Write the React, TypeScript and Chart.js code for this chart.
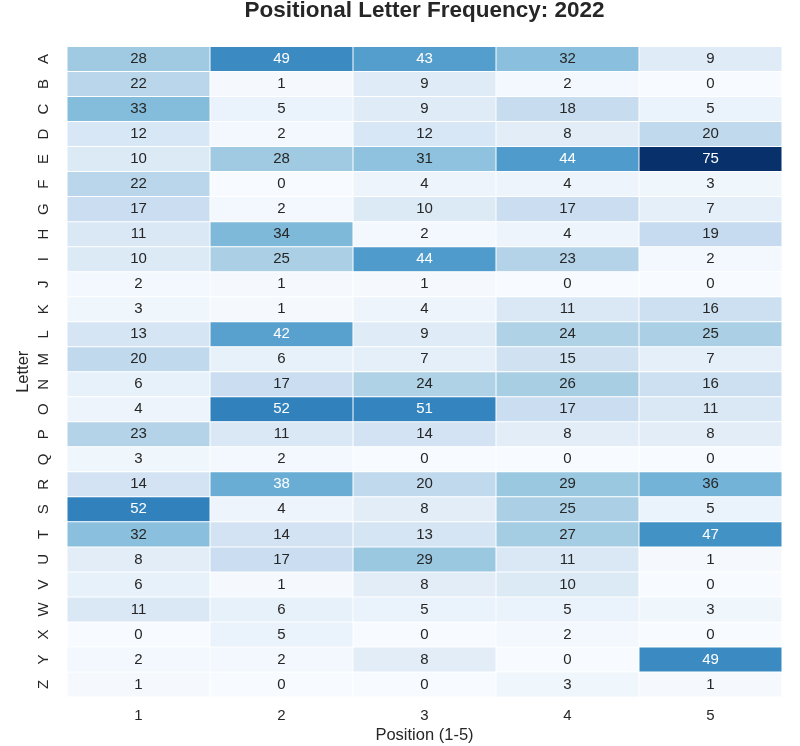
import { useEffect, useRef } from "react";
import { Chart } from "chart.js/auto";

const LETTERS = "ABCDEFGHIJKLMNOPQRSTUVWXYZ".split("");
const POSITIONS = ["1", "2", "3", "4", "5"];
const TITLE = "Positional Letter Frequency: 2022";

// counts per letter (A..Z) for each word position
const POS1 = [28, 22, 33, 12, 10, 22, 17, 11, 10, 2, 3, 13, 20, 6, 4, 23, 3, 14, 52, 32, 8, 6, 11, 0, 2, 1];
const POS2 = [49, 1, 5, 2, 28, 0, 2, 34, 25, 1, 1, 42, 6, 17, 52, 11, 2, 38, 4, 14, 17, 1, 6, 5, 2, 0];
const POS3 = [43, 9, 9, 12, 31, 4, 10, 2, 44, 1, 4, 9, 7, 24, 51, 14, 0, 20, 8, 13, 29, 8, 5, 0, 8, 0];
const POS4 = [32, 2, 18, 8, 44, 4, 17, 4, 23, 0, 11, 24, 15, 26, 17, 8, 0, 29, 25, 27, 11, 10, 5, 2, 0, 3];
const POS5 = [9, 0, 5, 20, 75, 3, 7, 19, 2, 0, 16, 25, 7, 16, 11, 8, 0, 36, 5, 47, 1, 0, 3, 0, 49, 1];

const COLUMNS = [POS1, POS2, POS3, POS4, POS5];

const FONT = '"Liberation Sans", Arial, sans-serif';
const INK = "#262626";

// matplotlib "Blues"
const BLUES = [
  [247, 251, 255],
  [222, 235, 247],
  [198, 219, 239],
  [158, 202, 225],
  [107, 174, 214],
  [66, 146, 198],
  [33, 113, 181],
  [8, 81, 156],
  [8, 48, 107],
];

function blues(t: number): number[] {
  t = Math.max(0, Math.min(1, t));
  t = Math.floor(t * 255) / 255;
  const s = t * 8;
  const i = Math.min(7, Math.floor(s));
  const f = s - i;
  return BLUES[i].map((c, k) => Math.round(c + (BLUES[i + 1][k] - c) * f));
}

function luminance(rgb: number[]) {
  const lin = (c: number) => {
    c /= 255;
    return c <= 0.03928 ? c / 12.92 : Math.pow((c + 0.055) / 1.055, 2.4);
  };
  return 0.2126 * lin(rgb[0]) + 0.7152 * lin(rgb[1]) + 0.0722 * lin(rgb[2]);
}

const vmax = Math.max(...COLUMNS.flat());

// cell numbers + title centred over the heatmap (like matplotlib)
const annotate = {
  id: "annotate",
  afterDatasetsDraw(chart: Chart) {
    const ctx = chart.ctx;
    ctx.save();
    ctx.font = `15px ${FONT}`;
    ctx.textAlign = "center";
    ctx.textBaseline = "middle";
    LETTERS.forEach((_, r) => {
      chart.getDatasetMeta(r).data.forEach((bar: any, c: number) => {
        const v = COLUMNS[c][r];
        const { x, y } = bar.getCenterPoint();
        ctx.fillStyle = luminance(blues(v / vmax)) > 0.408 ? INK : "#ffffff";
        ctx.fillText(String(v), x, y);
      });
    });
    const { left, right } = chart.chartArea;
    ctx.font = `bold 22.5px ${FONT}`;
    ctx.fillStyle = INK;
    ctx.fillText(TITLE, (left + right) / 2, 11);
    ctx.restore();
  },
};

export default function App() {
  const chartRef = useRef<HTMLCanvasElement>(null);
  const chartInstance = useRef<Chart | null>(null);

  useEffect(() => {
    if (!chartRef.current) return;
    if (chartInstance.current) chartInstance.current.destroy();
    const ctx = chartRef.current.getContext("2d");
    if (!ctx) return;

    chartInstance.current = new Chart(ctx, {
      type: "bar",
      data: {
        labels: POSITIONS,
        datasets: LETTERS.map((letter, r) => ({
          label: letter,
          data: COLUMNS.map(() => [r, r + 1]),
          backgroundColor: COLUMNS.map((col) => {
            const [cr, cg, cb] = blues(col[r] / vmax);
            return `rgb(${cr}, ${cg}, ${cb})`;
          }),
          borderColor: "#ffffff",
          borderWidth: 0.5,
          borderSkipped: false,
          inflateAmount: 0,
          grouped: false,
          barPercentage: 1,
          categoryPercentage: 1,
        })) as any,
      },
      options: {
        animation: false,
        responsive: true,
        maintainAspectRatio: false,
        layout: { padding: { left: 0, right: 18, top: 46.5, bottom: 0 } },
        scales: {
          x: {
            offset: true,
            grid: { display: false, drawTicks: false },
            border: { display: false },
            ticks: { color: INK, font: { family: FONT, size: 15 }, padding: 10 },
            title: {
              display: true,
              text: "Position (1-5)",
              color: INK,
              font: { family: FONT, size: 16.5 },
              padding: { top: 0, bottom: 1 },
            },
            afterFit(scale: any) {
              scale.height = 49;
            },
          },
          y: {
            type: "linear",
            min: 0,
            max: 26,
            reverse: true,
            grid: { display: false, drawTicks: false },
            border: { display: false },
            afterBuildTicks(scale: any) {
              scale.ticks = LETTERS.map((_, i) => ({ value: i + 0.5 }));
            },
            ticks: {
              color: INK,
              font: { family: FONT, size: 15 },
              minRotation: 90,
              maxRotation: 90,
              crossAlign: "center",
              padding: 16,
              callback: (_v: any, i: number) => LETTERS[i],
            },
            title: {
              display: true,
              text: "Letter",
              color: INK,
              font: { family: FONT, size: 16.5 },
              padding: { top: 14, bottom: 0 },
            },
            afterFit(scale: any) {
              scale.width = 67;
            },
          },
        },
        plugins: {
          legend: { display: false },
          tooltip: { enabled: false },
          title: { display: false },
        },
      },
      plugins: [annotate],
    });

    return () => {
      if (chartInstance.current) {
        chartInstance.current.destroy();
        chartInstance.current = null;
      }
    };
  }, []);

  return (
    <div style={{ position: "absolute", left: 0, top: 0, width: 800, height: 746, background: "#fff" }}>
      <canvas ref={chartRef} />
    </div>
  );
}
